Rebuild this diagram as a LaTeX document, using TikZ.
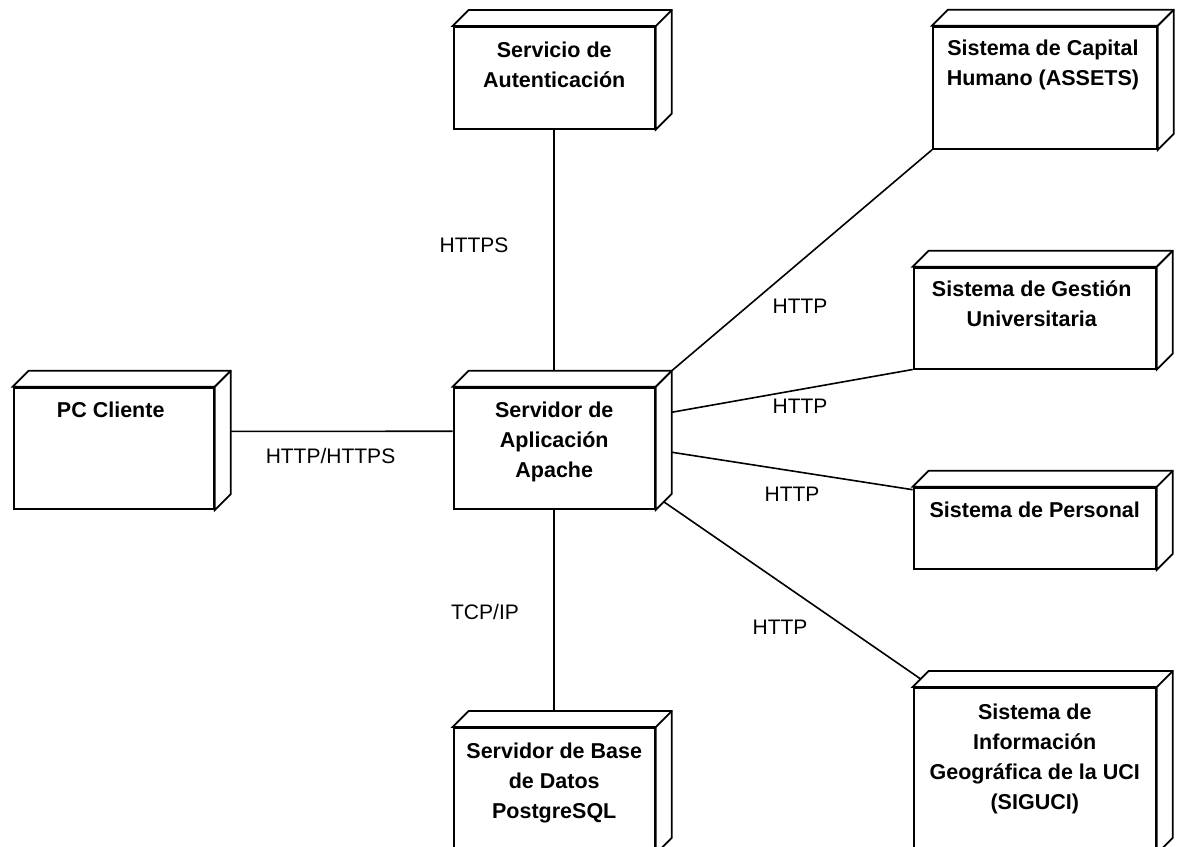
\documentclass[tikz,border=0pt]{standalone}
\usepackage{fontspec}
\setmainfont{Liberation Sans}
\usetikzlibrary{calc,backgrounds}
\tikzset{
  boxline/.style={draw=black, line width=1.8pt, line join=miter},
  front/.style={boxline, fill=white, rectangle, inner sep=0pt, anchor=north west},
  title/.style={anchor=base, inner sep=0pt},
  lbl/.style={font=\fontsize{21}{25}\selectfont, inner sep=0pt, text height=15pt, text depth=0pt},
  conn/.style={draw=black, line width=1.6pt},
}
\newcommand\ttl[1]{\parbox[t]{280pt}{\centering\fontsize{21.5}{30}\selectfont\bfseries #1}}
\newcommand\depthbox[1]{%
  \filldraw[boxline, fill=white] (#1.north west) -- ++(16,-16) -- ($(#1.north east)+(16,-16)$) -- ($(#1.south east)+(16,-16)$) -- (#1.south east) -- (#1.north east) -- cycle;
  \draw[boxline] (#1.north east) -- ++(16,-16);
}
\begin{document}
\begin{tikzpicture}[x=1pt,y=-1pt]
\clip (0,0) rectangle (1177,846);
% front faces
\node[front, minimum width=201.3pt, minimum height=101.7pt] (aut) at (452.7,26) {};
\node[front, minimum width=200.3pt, minimum height=121.6pt] (pc) at (12.7,386.7) {};
\node[front, minimum width=201.3pt, minimum height=121.3pt] (apa) at (452.7,386.7) {};
\node[front, minimum width=201.3pt, minimum height=125pt] (bd) at (452.7,727) {};
\node[front, minimum width=224pt, minimum height=122.3pt] (cap) at (932,25.7) {};
\node[front, minimum width=242.3pt, minimum height=101pt] (ges) at (912.7,266.7) {};
\node[front, minimum width=242.3pt, minimum height=81.3pt] (per) at (912.7,486.7) {};
\node[front, minimum width=242.3pt, minimum height=165pt] (sig) at (912.7,687) {};
% depth faces
\depthbox{aut}\depthbox{pc}\depthbox{apa}\depthbox{bd}
\depthbox{cap}\depthbox{ges}\depthbox{per}\depthbox{sig}
% titles
\node[title] (autT) at ($(aut.north)+(0,31)$) {\ttl{Servicio de\\Autenticación}};
\node[title] (pcT) at ($(pc.north)+(-3,31)$) {\ttl{PC Cliente}};
\node[title] (apaT) at ($(apa.north)+(0,31)$) {\ttl{Servidor de\\Aplicación\\Apache}};
\node[title] (bdT) at ($(bd.north)+(0,31)$) {\ttl{Servidor de Base\\de Datos\\PostgreSQL}};
\node[title] (capT) at ($(cap.north)+(-2,30)$) {\ttl{Sistema de Capital\\Humano (ASSETS)}};
\node[title] (gesT) at ($(ges.north)+(-3,30)$) {\ttl{Sistema de Gestión\\Universitaria}};
\node[title] (perT) at ($(per.north)+(0,31)$) {\ttl{Sistema de Personal}};
\node[title] (sigT) at ($(sig.north)+(0,32)$) {\ttl{Sistema de\\Información\\Geográfica de la UCI\\(SIGUCI)}};
% connector labels
\node[lbl] (l1) at (474,245) {HTTPS};
\node[lbl] (l2) at (330.5,456) {HTTP/HTTPS};
\node[lbl] (l3) at (800,306) {HTTP};
\node[lbl] (l4) at (800,406) {HTTP};
\node[lbl] (l5) at (792,494) {HTTP};
\node[lbl] (l6) at (780,627) {HTTP};
\node[lbl] (l7) at (485,612) {TCP/IP};
\begin{pgfonlayer}{background}
\fill[white] (0,0) rectangle (1177,846);
\draw[conn] (aut.south) -- (apa.north);
\draw[conn] (apa.south) -- (bd.north);
\draw[conn] ($(pc.east)+(0,-17)$) -- ($(apa.west)+(0,-17)$);
\draw[conn] ($(apa.north east)+(16,-16)$) -- (cap.south west);
\draw[conn] ($(apa.east)+(16,-36)$) -- (ges.south west);
\draw[conn] ($(apa.east)+(16,4)$) -- ($(per.north west)+(0,3)$);
\draw[conn] ($(apa.south east)+(8,-8)$) -- ($(sig.north west)+(8,-8)$);
\end{pgfonlayer}
\end{tikzpicture}
\end{document}
